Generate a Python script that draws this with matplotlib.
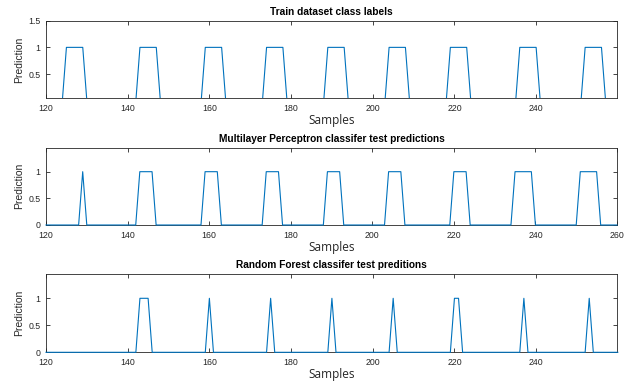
import numpy as np
import matplotlib.pyplot as plt

# ==========================================================
# Data: sample indices and runs of samples predicted as 1
# ==========================================================

samples = np.arange(120, 261)

train_runs = [(125, 129), (143, 147), (159, 163), (174, 178), (189, 193),
              (204, 208), (219, 223), (236, 240), (252, 256)]

mlp_runs = [(129, 129), (143, 146), (159, 162), (174, 177), (189, 192),
            (204, 207), (220, 223), (235, 239), (251, 255)]

rf_runs = [(143, 145), (160, 160), (175, 175), (190, 190), (205, 205),
           (220, 221), (237, 237), (253, 253)]

titles = ["Train dataset class labels",
          "Multilayer Perceptron classifer test predictions",
          "Random Forest classifer test preditions"]


def runs_to_labels(runs):
    y = np.zeros(len(samples))
    for a, b in runs:
        y[(samples >= a) & (samples <= b)] = 1
    return y


series = [runs_to_labels(train_runs),
          runs_to_labels(mlp_runs),
          runs_to_labels(rf_runs)]

# ==========================================================
# Figure
# ==========================================================

line_color = "#0072BD"
axis_color = "#262626"

fig = plt.figure(figsize=(6.37, 3.85), dpi=100)

left = 46 / 637
width = 571 / 637
boxes = [(20.7, 98.3), (147.7, 225.0), (274.0, 352.3)]

xlims = [(120, 259.8), (120, 260), (120, 259.8)]
ylims = [(0.045, 1.5), (0, 1.45), (0, 1.45)]
xticks = [np.arange(120, 241, 20), np.arange(120, 261, 20), np.arange(120, 241, 20)]
yticks = [[0.5, 1, 1.5], [0, 0.5, 1], [0, 0.5, 1]]

for i in range(3):
    top, bot = boxes[i]
    ax = fig.add_axes([left, 1 - bot / 385, width, (bot - top) / 385])

    ax.plot(samples, series[i], color=line_color, linewidth=0.8,
            clip_on=(i == 0), zorder=5)

    ax.set_xlim(*xlims[i])
    ax.set_ylim(*ylims[i])
    ax.set_xticks(xticks[i])
    ax.set_yticks(yticks[i])
    ax.set_yticklabels([f"{v:g}" for v in yticks[i]])

    ax.tick_params(direction="in", top=True, right=True, length=3,
                   width=0.6, colors=axis_color, labelsize=6.3, pad=4)
    for lab in ax.get_xticklabels() + ax.get_yticklabels():
        lab.set_fontfamily("Liberation Sans")
    for s in ax.spines.values():
        s.set_color(axis_color)
        s.set_linewidth(0.6)

    ax.set_title(titles[i], fontsize=7.3, fontweight="bold",
                 family="Liberation Sans", pad=4)
    ax.set_xlabel("Samples", fontsize=8.5, family="Open Sans",
                  color=axis_color, labelpad=1)
    ax.set_ylabel("Prediction", fontsize=7.5, family="Liberation Sans",
                  color=axis_color, labelpad=3)

fig.savefig("out.png", dpi=100)
